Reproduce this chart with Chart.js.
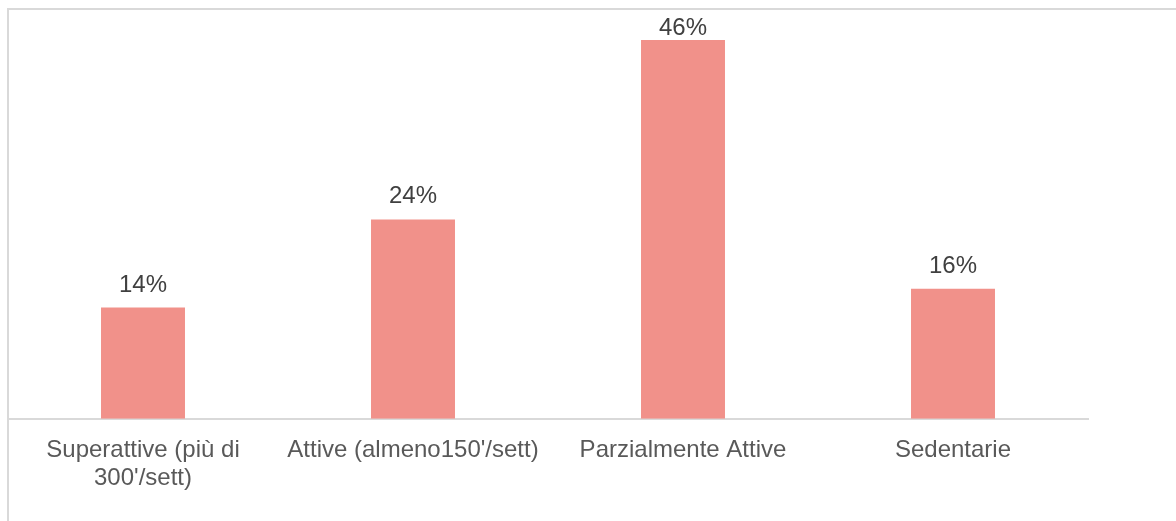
<!DOCTYPE html>
<html>
<head>
<meta charset="utf-8">
<script src="https://cdn.jsdelivr.net/npm/chart.js@4"></script>
<style>
  html, body { margin: 0; padding: 0; background: #fff; }
  .wrap { position: relative; width: 1176px; height: 521px; overflow: hidden; }
  .frame { position: absolute; left: 7px; top: 8px; width: 1169px; height: 513px;
           border-left: 2px solid #d9d9d9; border-top: 2px solid #d9d9d9; box-sizing: border-box; }
  canvas { position: absolute; left: 0; top: 0; }
</style>
</head>
<body>
<div class="wrap">
  <div class="frame"></div>
  <canvas id="chart" width="1176" height="521"></canvas>
</div>
<script>
// categories (multi-line ones already split like in the picture)
const categorie = [
  ["Superattive (più di", "300'/sett)"],
  "Attive (almeno150'/sett)",
  "Parzialmente Attive",
  "Sedentarie",
];
// percent values
const percentuali = [13.5, 24.2, 46.0, 15.8];
const yMax = 50;

const coloreBarre = "#f1918a";
const fontFamily = "'Liberation Sans', Arial, sans-serif";

// simple value labels above bars (no datalabels plugin offline)
const etichettePlugin = {
  id: "etichette",
  afterDatasetsDraw(chart) {
    const ctx = chart.ctx;
    const meta = chart.getDatasetMeta(0);
    ctx.save();
    ctx.font = "24px " + fontFamily;
    ctx.fillStyle = "#404040";
    ctx.textAlign = "center";
    ctx.textBaseline = "alphabetic";
    meta.data.forEach((bar, i) => {
      const testo = Math.round(percentuali[i]) + "%";
      let y = bar.y - 16;
      if (y < 35) y = 35;
      ctx.fillText(testo, bar.x, y);
    });
    ctx.restore();
  },
};

const ctx = document.getElementById("chart").getContext("2d");
new Chart(ctx, {
  type: "bar",
  data: {
    labels: categorie,
    datasets: [
      {
        data: percentuali,
        backgroundColor: coloreBarre,
        borderWidth: 0,
        categoryPercentage: 1,
        barPercentage: 0.311,
      },
    ],
  },
  options: {
    responsive: false,
    animation: false,
    layout: { padding: { left: 8, right: 88, top: 7, bottom: 11 } },
    plugins: {
      legend: { display: false },
      tooltip: { enabled: false },
    },
    scales: {
      x: {
        grid: { display: true, drawOnChartArea: false, drawTicks: false },
        border: { display: true, color: "#d9d9d9", width: 2 },
        ticks: {
          color: "#595959",
          padding: 18,
          maxRotation: 0,
          autoSkip: false,
          font: { family: fontFamily, size: 24, lineHeight: 1.15 },
        },
      },
      y: {
        display: false,
        min: 0,
        max: yMax,
      },
    },
  },
  plugins: [etichettePlugin],
});
</script>
</body>
</html>
